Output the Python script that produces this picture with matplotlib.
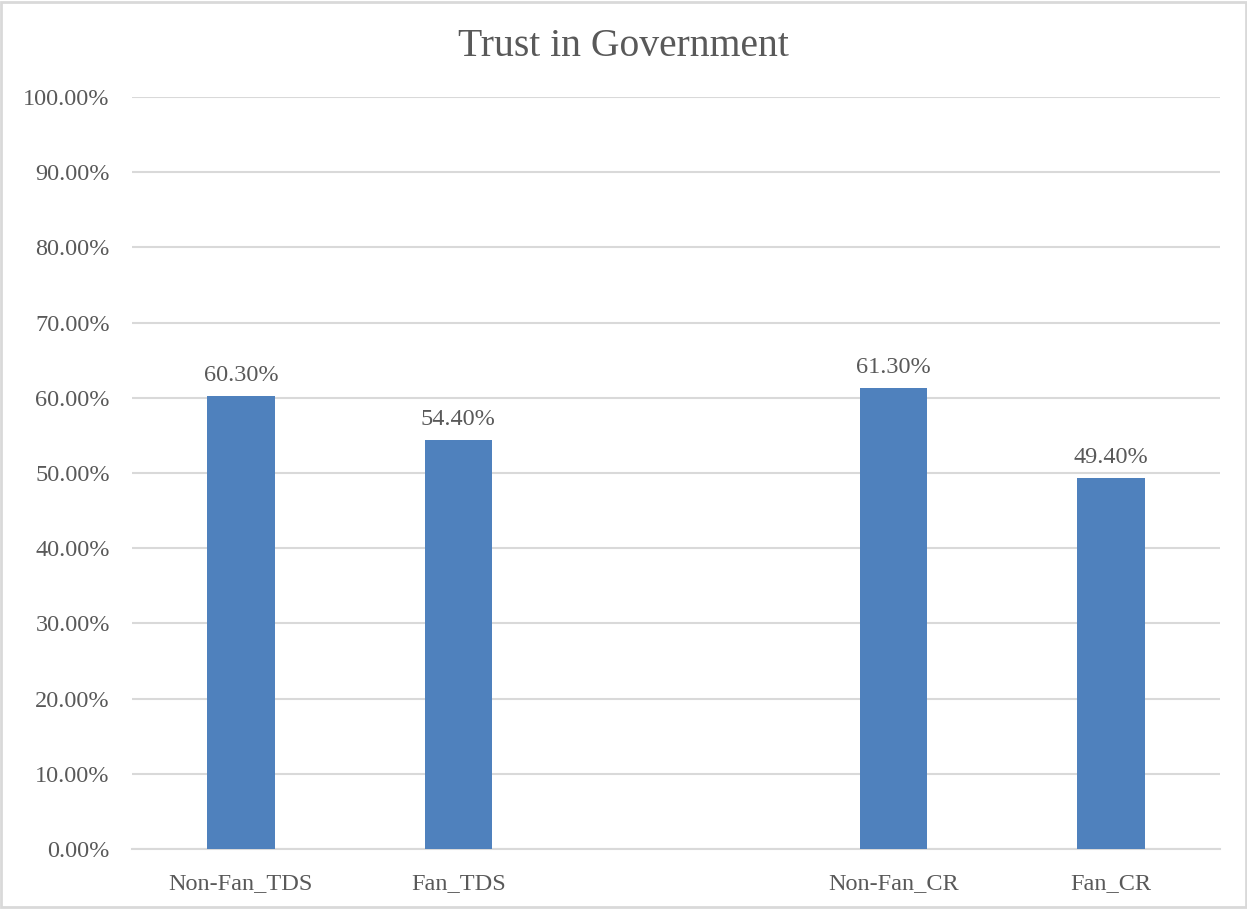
import matplotlib.pyplot as plt
from matplotlib.patches import Rectangle

plt.rcParams['font.family'] = ['Liberation Serif', 'DejaVu Serif']

categories = ['Non-Fan_TDS', 'Fan_TDS', '', 'Non-Fan_CR', 'Fan_CR']
values = [60.3, 54.4, None, 61.3, 49.4]
labels = ['60.30%', '54.40%', '', '61.30%', '49.40%']
yticks = [0, 10, 20, 30, 40, 50, 60, 70, 80, 90, 100]

text_color = '#595959'
bar_color = '#4f81bd'
grid_color = '#d9d9d9'

fig = plt.figure(figsize=(12.47, 9.09), dpi=100)
ax = fig.add_axes([0.1059, 0.066, 0.8724, 0.8273])

xs = list(range(len(categories)))
for x, v, lab in zip(xs, values, labels):
    if v is None:
        continue
    ax.bar(x, v, width=0.31, color=bar_color, zorder=3)
    ax.text(x, v + 1.3, lab, ha='center', va='bottom', fontsize=17.5, color=text_color)

ax.set_xlim(-0.5, len(categories) - 0.5)
ax.set_ylim(0, 100)
ax.set_yticks(yticks)
ax.set_yticklabels([f'{t:.2f}%' for t in yticks], fontsize=17.5, color=text_color)
ax.set_xticks(xs)
ax.set_xticklabels(categories, fontsize=17.5, color=text_color)
ax.tick_params(axis='both', length=0)
ax.tick_params(axis='y', pad=16)
ax.tick_params(axis='x', pad=17)
ax.yaxis.grid(True, color=grid_color, linewidth=1.5, zorder=0)
for s in ['top', 'right', 'left']:
    ax.spines[s].set_visible(False)
ax.spines['bottom'].set_color(grid_color)
ax.spines['bottom'].set_linewidth(1.5)

fig.text(0.5, 0.949, 'Trust in Government', ha='center', va='center', fontsize=28.5, color=text_color)

fig.patches.append(Rectangle((0.001, 0.002), 0.998, 0.996, transform=fig.transFigure,
                             fill=False, edgecolor='#d9d9d9', linewidth=2))

fig.savefig('out.png', dpi=100)
